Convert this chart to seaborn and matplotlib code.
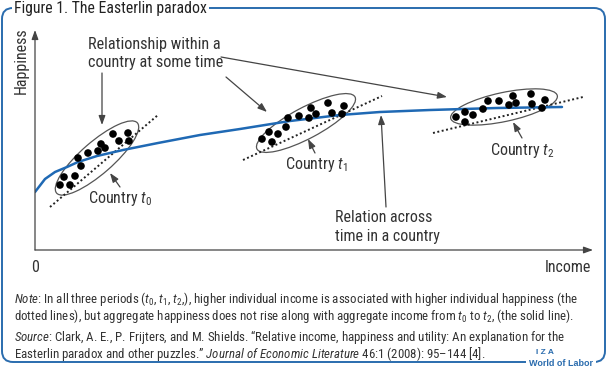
import matplotlib
matplotlib.use("Agg")
import matplotlib.pyplot as plt
from matplotlib.patches import Ellipse, FancyBboxPatch
import seaborn as sns
import pandas as pd

sns.set_style("white")
FONT = ["Roboto Condensed", "DejaVu Sans"]
plt.rcParams["font.family"] = FONT
plt.rcParams["mathtext.fontset"] = "custom"
plt.rcParams["mathtext.rm"] = "Roboto Condensed"
plt.rcParams["mathtext.it"] = "Roboto Condensed:italic"

# ---------------- data (abstract units: income 0..558, happiness 0..220) -------------
t0_income = [78, 93, 84, 94, 66, 70, 63, 53, 43, 46, 29, 40, 25, 35]
t0_happy = [116, 117, 109, 109, 106, 102, 99, 97, 92, 84, 73, 74, 65, 65]
t1_income = [293, 276, 309, 253, 264, 274, 281, 297, 307, 251, 234, 243, 227, 237]
t1_happy = [147, 142, 144, 132, 134, 132, 136, 137, 136, 123, 118, 116, 111, 108]
t2_income = [496, 478, 453, 464, 474, 481, 497, 510, 507, 448, 438, 430, 421, 430]
t2_happy = [156, 154, 149, 149, 145, 147, 146, 150, 142, 141, 135, 138, 133, 128]

# dotted within-country relationships (start/end)
fit_income = {"t0": [15, 123], "t1": [208, 347], "t2": [398, 548]}
fit_happy = {"t0": [43, 135], "t1": [90, 154], "t2": [117, 153]}

# solid relation across time
agg_income = [0, 10, 20, 32, 43, 62, 88, 123, 165, 205, 255, 305, 345, 395, 462, 527]
agg_happy = [58, 71, 78, 83, 88, 94, 100, 107, 115, 121, 129, 135, 138, 140, 142, 143]

# ellipses: centre, length, thickness, angle
ell_center = {"t0": (62, 92), "t1": (271, 127), "t2": (469, 143)}
ell_size = {"t0": (107, 32), "t1": (111, 31), "t2": (109, 29)}
ell_angle = {"t0": 41, "t1": 28, "t2": 12}

BLUE = "#1f69b4"
FRAME = "#2a6cae"
TXT = "#333333"
GREY = "#444444"

W, H = 608, 371
fig = plt.figure(figsize=(W / 100, H / 100), dpi=100)

# ---------- frame / page texts (pixel coordinates) ----------
fa = fig.add_axes([0, 0, 1, 1])
fa.set_xlim(0, W)
fa.set_ylim(H, 0)
fa.axis("off")
fa.add_patch(FancyBboxPatch((2, 8), 603, 354, boxstyle="round,pad=0,rounding_size=11",
                            fc="none", ec=FRAME, lw=1.4))
fa.text(14, 8, "Figure 1. The Easterlin paradox", fontsize=11.3, color="#222222",
        va="center", ha="left",
        bbox=dict(fc="white", ec="none", pad=1.5))
fa.text(545, 353, "I Z A", fontsize=6.0, color=FRAME, weight="bold", ha="center",
        va="center", family=["Liberation Sans", "DejaVu Sans"])
fa.text(561, 363, "World of Labor", fontsize=6.5, color=FRAME, weight="bold", ha="center",
        va="center", family=["Liberation Sans", "DejaVu Sans"],
        bbox=dict(fc="white", ec="none", pad=2.0))

fa.text(21, 61, "Happiness", rotation=90, fontsize=11.5, color=TXT, ha="center", va="center")
fa.text(35, 267, "0", fontsize=11.5, color=TXT, ha="center", va="center")
fa.text(591, 267, "Income", fontsize=11.5, color=TXT, ha="right", va="center")
fa.text(88, 45, "Relationship within a", fontsize=11.7, color=TXT, ha="left", va="center")
fa.text(88, 63, "country at some time", fontsize=11.7, color=TXT, ha="left", va="center")
fa.text(88, 198, "Country $t_0$", fontsize=11.5, color=TXT, ha="left", va="center")
fa.text(285, 165, "Country $t_1$", fontsize=11.5, color=TXT, ha="left", va="center")
fa.text(490, 150, "Country $t_2$", fontsize=11.5, color=TXT, ha="left", va="center")
fa.text(335, 218, "Relation across", fontsize=11.5, color=TXT, ha="left", va="center")
fa.text(335, 236, "time in a country", fontsize=11.5, color=TXT, ha="left", va="center")

small = 9.3
fa.text(14, 299, r"$\mathit{Note}$: In all three periods ($t_0$, $t_1$, $t_2$,), higher individual income "
        "is associated with higher individual happiness (the",
        fontsize=small, color=TXT, ha="left", va="center")
fa.text(14, 316, r"dotted lines), but aggregate happiness does not rise along with aggregate income "
        r"from $t_0$ to $t_2$, (the solid line).",
        fontsize=small, color=TXT, ha="left", va="center")
fa.text(14, 337, r"$\mathit{Source}$: Clark, A. E., P. Frijters, and M. Shields. “Relative income, "
        "happiness and utility: An explanation for the",
        fontsize=small, color=TXT, ha="left", va="center")
fa.text(14, 354, r"Easterlin paradox and other puzzles.” $\mathit{Journal\ of\ Economic\ Literature}$ "
        "46:1 (2008): 95–144 [4].",
        fontsize=small, color=TXT, ha="left", va="center")

# ---------- chart ----------
ax = fig.add_axes([35 / W, 1 - 250 / H, 558 / W, 220 / H])
ax.set_xlim(0, 558)
ax.set_ylim(0, 220)
ax.axis("off")

arrow = dict(arrowstyle="-|>,head_length=0.55,head_width=0.2", color=GREY, lw=0.9,
             shrinkA=0, shrinkB=0, mutation_scale=10)
ax.annotate("", xy=(0, 1), xytext=(0, 0), xycoords="axes fraction", arrowprops=arrow,
            annotation_clip=False)
ax.annotate("", xy=(1, 0), xytext=(0, 0), xycoords="axes fraction", arrowprops=arrow,
            annotation_clip=False)

for k in ["t0", "t1", "t2"]:
    e = Ellipse(ell_center[k], ell_size[k][0], ell_size[k][1], angle=ell_angle[k],
                fc="none", ec="#555555", lw=0.9)
    ax.add_patch(e)
    sns.lineplot(x=fit_income[k], y=fit_happy[k], ax=ax, color="#222222", lw=1.4,
                 linestyle=(0, (1, 1.3)), sort=False, estimator=None)

sns.lineplot(x=agg_income, y=agg_happy, ax=ax, color=BLUE, lw=1.8, sort=False,
             estimator=None)

dots = pd.DataFrame({"income": t0_income + t1_income + t2_income,
                     "happy": t0_happy + t1_happy + t2_happy})
sns.scatterplot(data=dots, x="income", y="happy", ax=ax, color="black", s=30,
                edgecolor="none", zorder=5)

# pointer arrows
for start, end in [((67, 177), (67, 125)), ((191, 173), (232, 138)), ((186, 193), (412, 153)),
                   ((85, 63), (75, 77)), ((280, 97), (273, 111)), ((487, 112), (478, 128)),
                   ((351, 43), (346, 135))]:
    ax.annotate("", xy=end, xytext=start, arrowprops=arrow, annotation_clip=False)

ax.set_xlabel("")
ax.set_ylabel("")
fig.savefig("out.png", dpi=100)
